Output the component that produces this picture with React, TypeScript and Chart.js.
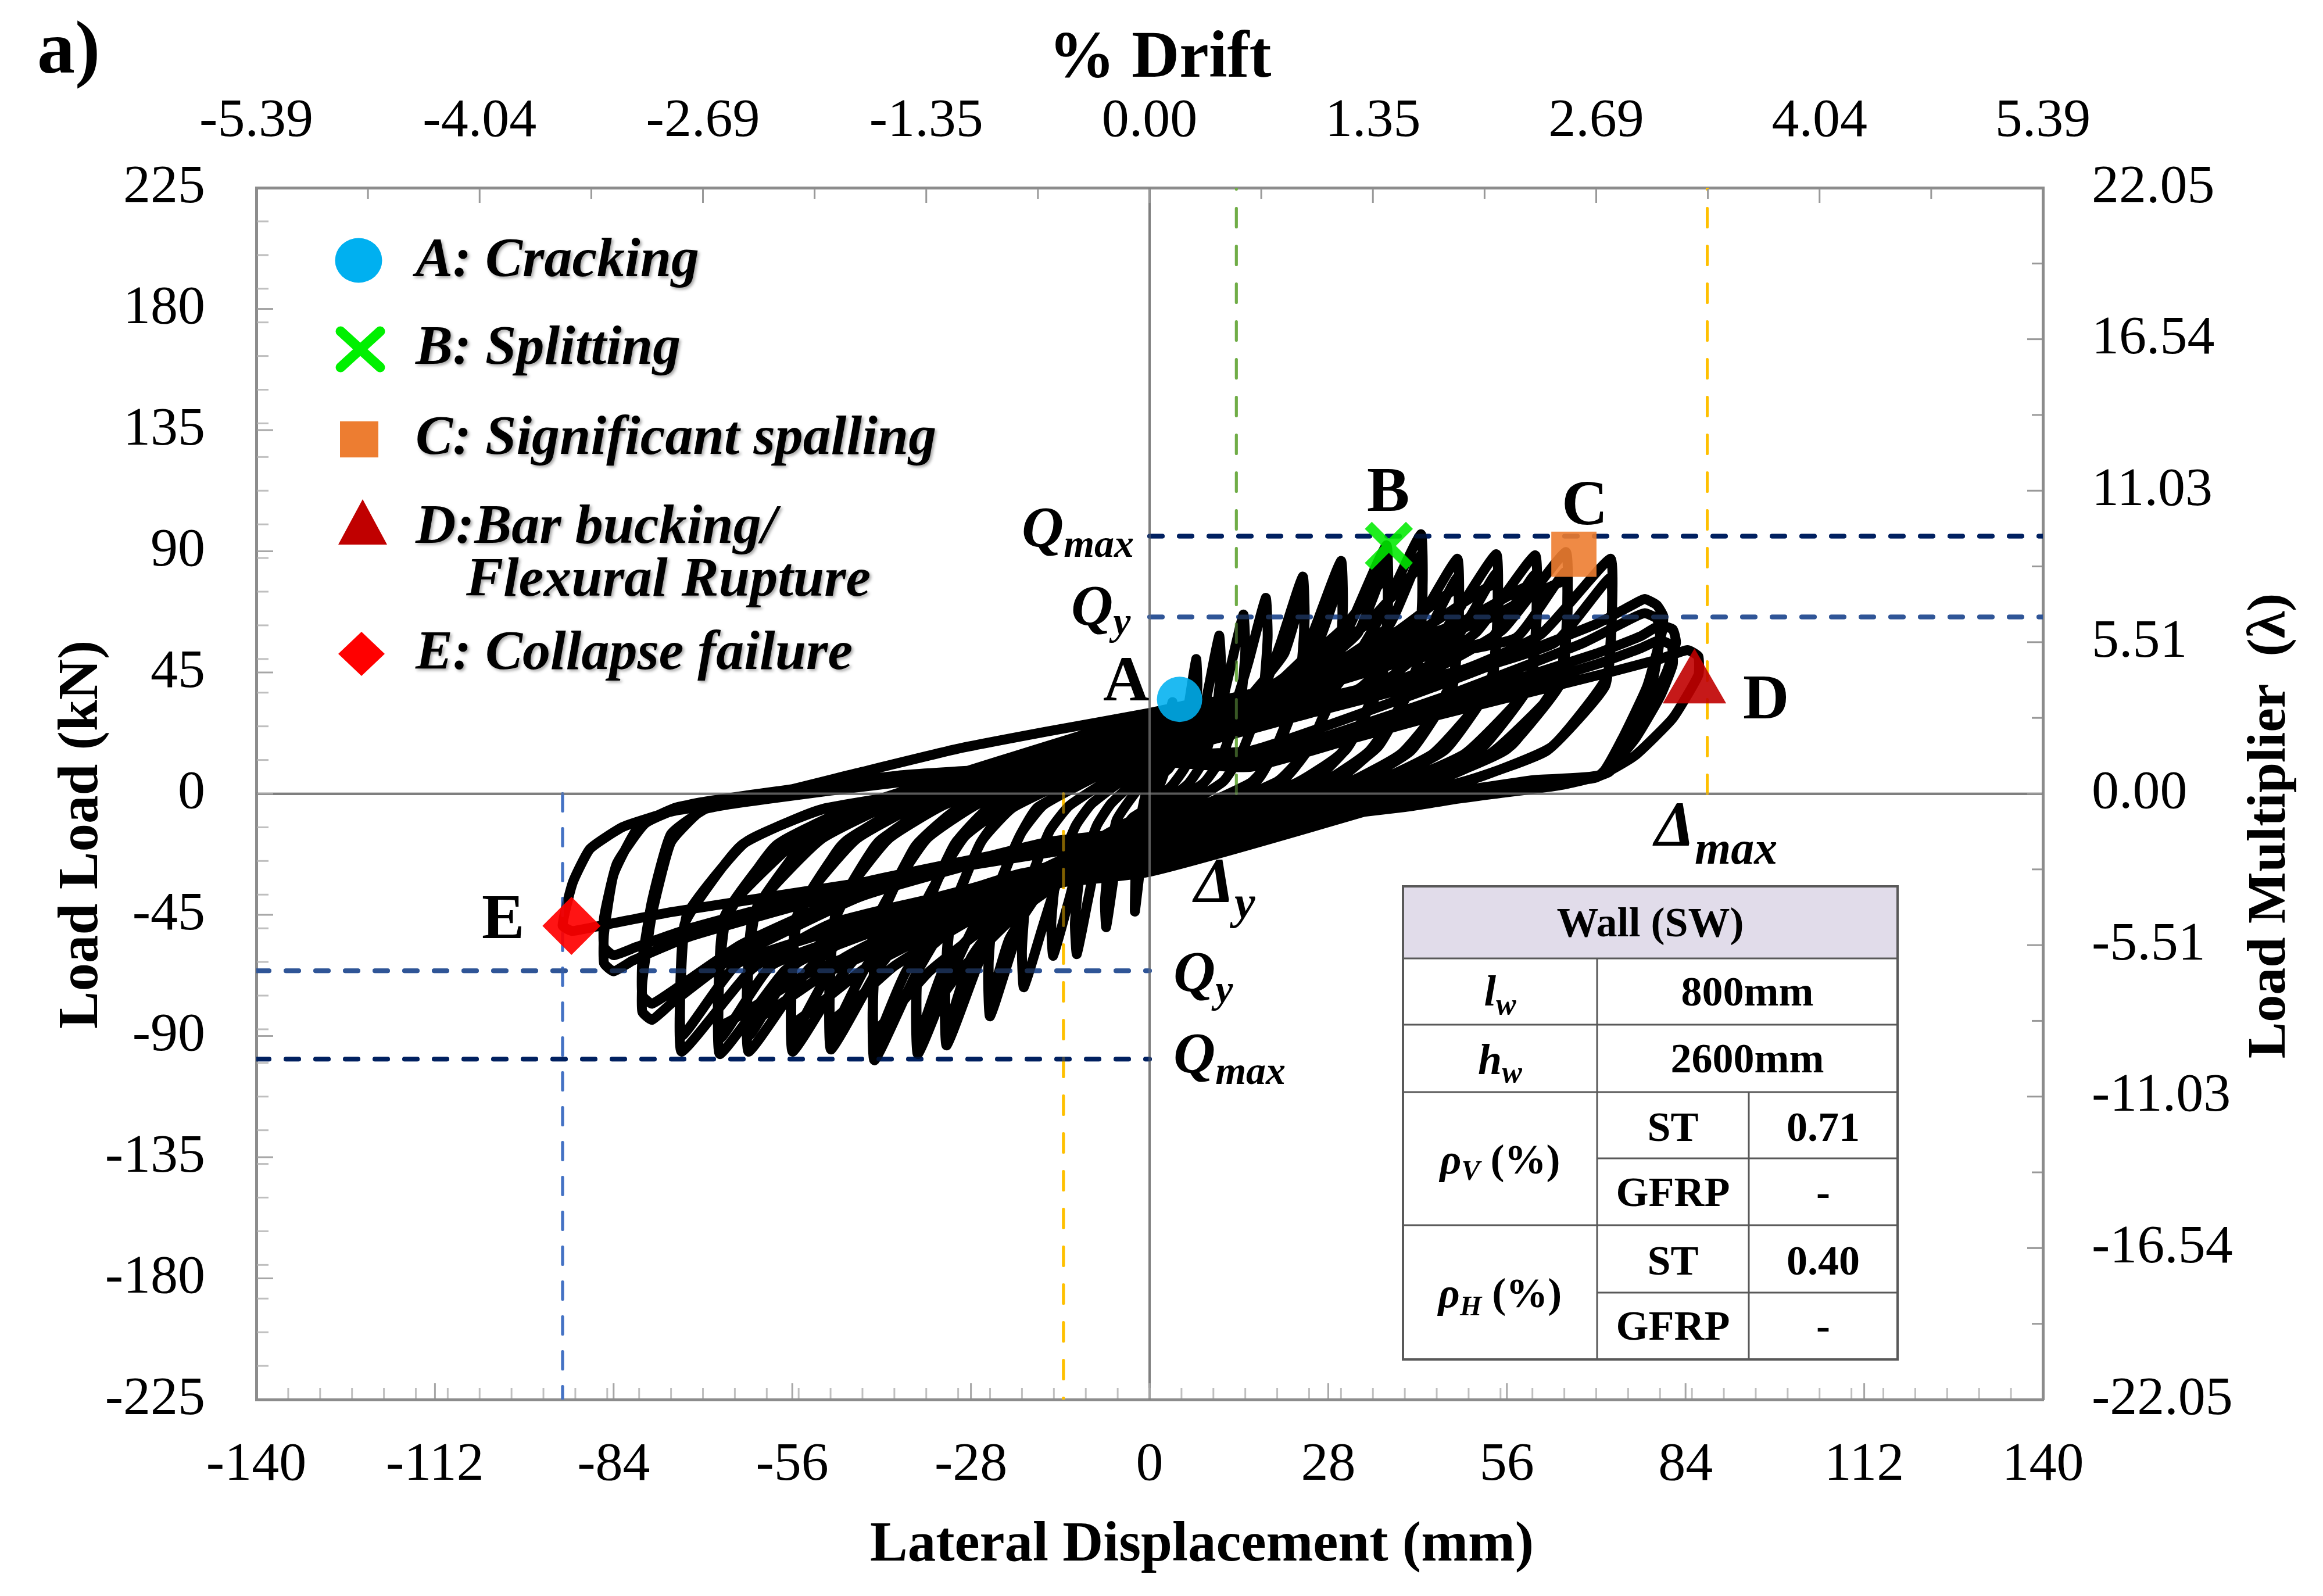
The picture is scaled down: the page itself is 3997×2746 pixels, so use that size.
import React, { useEffect, useRef } from 'react';
import { Chart, registerables } from 'chart.js';

Chart.register(...registerables);

const SERIF = '"Liberation Serif", "Times New Roman", serif';

// ---------- tick labels ----------
const driftTickLabels = ['-5.39', '-4.04', '-2.69', '-1.35', '0.00', '1.35', '2.69', '4.04', '5.39'];
const multiplierTickLabels = ['-22.05', '-16.54', '-11.03', '-5.51', '0.00', '5.51', '11.03', '16.54', '22.05'];

// ---------- hysteresis loops: [displacement mm, load kN] ----------
const cycle01 = [[0, 0], [1, 10], [2, 18], [1.6, 10], [0.8, 2], [0, -3], [-0.8, -14], [-1.5, -25], [-1.2, -14], [-0.6, -3], [0, 2]];
const cycle02 = [[1.5, 14], [2.8, 26], [3.6, 34], [3.4, 24], [2.6, 10], [1.4, 2], [0, -4], [-1.2, -22], [-2.3, -43.8], [-2.2, -30], [-1.6, -12], [-0.8, -2], [0, 4]];
const cycle03 = [[2.9, 9], [5, 17], [6.2, 34], [7.3, 50], [7.5, 40], [6.9, 25], [5.6, 10], [3.5, 3], [0, -5], [-2.7, -9], [-4.6, -16], [-5.8, -34], [-6.8, -49.6], [-7, -40], [-6.4, -25], [-5.2, -10], [-3.3, -3], [0, 7]];
const cycle04 = [[4.4, 12], [7.4, 19.4], [9.3, 40], [10.9, 58.7], [11.2, 47], [10.4, 29], [8.4, 12], [6, 3.5], [0, -7], [-4.6, -12], [-7.8, -19.7], [-9.7, -40], [-11.4, -59.6], [-11.7, -48], [-10.9, -30], [-8.3, -12], [-6, -3.6], [0, 9]];
const cycle05 = [[5.9, 14], [10, 22.3], [12.5, 45], [14.7, 66.5], [15, 53], [14.2, 33], [11.2, 13], [8.5, 4], [0, -9], [-6, -14], [-10.3, -21], [-12.8, -41], [-15.1, -60.2], [-15.4, -48], [-14.6, -30], [-11.6, -12], [-9, -3.6], [0, 12]];
const cycle06 = [[7.3, 18], [12.4, 26.5], [15.5, 49], [18.2, 72.7], [18.5, 58], [17.7, 36], [14.4, 15], [11.5, 4.4], [0, -12], [-7.9, -18], [-13.4, -26.4], [-16.7, -49], [-19.7, -71.9], [-20, -58], [-19.2, -36], [-15.7, -14], [-12.5, -4.3], [0, 14]];
const cycle07 = [[9.6, 20.5], [16.3, 30], [20.4, 55], [24, 80.6], [24.3, 64.5], [23.5, 40], [19.6, 16], [16.8, 4.8], [0, -14], [-10, -20.6], [-17, -30.5], [-21.3, -56], [-25, -82.7], [-25.3, -66], [-24.5, -41], [-20.5, -16.5], [-17.5, -5], [0, 16]];
const repeat07 = [[8.4, 23], [14.9, 34], [21.1, 52], [24, 74], [24.2, 60], [23.3, 37], [19.5, 14], [15.8, 4], [0, -13], [-8.8, -20], [-15.5, -31], [-22, -54], [-25, -77], [-25.2, -62], [-24.2, -38], [-20.2, -15], [-16.5, -4], [0, 16]];
const cycle08 = [[12, 23], [20.4, 33], [25.5, 59], [30, 86.4], [30.3, 69], [29.5, 43], [25, 17], [21, 5.2], [0, -16], [-12.7, -23.5], [-21.6, -34.7], [-27, -64], [-31.8, -93.5], [-32.1, -75], [-31.3, -47], [-26.6, -18.7], [-22.3, -5.6], [0, 18]];
const repeat08 = [[10.5, 26], [18.6, 38], [26.4, 56], [30, 79.5], [30.2, 64], [29.3, 40], [24.6, 16], [20, 4.5], [0, -15], [-11.1, -23.8], [-19.7, -36], [-28, -61], [-31.8, -88], [-32, -70], [-31, -44], [-26.3, -17.6], [-21.3, -5], [0, 18]];
const cycle09 = [[14.8, 25.4], [25.2, 36], [31.5, 63], [37.1, 92.2], [37.4, 74], [36.6, 46], [31.4, 18.4], [26, 5.5], [0, -18], [-14.5, -25.7], [-24.7, -37.3], [-30.9, -66], [-36.3, -96.7], [-36.6, -77], [-35.8, -48], [-30.7, -19.3], [-25.4, -5.8], [0, 20]];
const repeat09 = [[13, 28.5], [23, 41], [32.6, 59.5], [37.1, 85], [37.3, 68], [36.4, 42.5], [31, 17], [25, 5], [0, -17], [-12.7, -26], [-22.5, -39.7], [-32, -63.7], [-36.3, -91], [-36.5, -72.8], [-35.6, -45.5], [-30.4, -18.2], [-24.5, -5.5], [0, 20]];
const third09 = [[11, 30], [20.4, 42], [29.7, 60], [37.1, 80], [37.3, 64], [36.2, 40], [30, 15], [23, 4], [0, -16], [-10.9, -28], [-20, -43], [-29, -64], [-36.3, -86], [-36.5, -68], [-35.4, -42], [-29, -16], [-22, -4], [0, 20]];
const cycle10 = [[17, 27.7], [28.9, 39], [36.1, 65.5], [42.5, 96.3], [42.8, 77], [42, 48], [36.3, 19.3], [29.8, 5.8], [0, -20], [-17.2, -27.9], [-29.3, -39.8], [-36.6, -67], [-43.1, -99], [-43.4, -79], [-42.6, -49.5], [-36.8, -19.8], [-30.2, -5.9], [0, 22]];
const repeat10 = [[14.9, 30.9], [26.4, 44], [37.4, 62], [42.5, 88.6], [42.7, 71], [41.8, 44.3], [35.9, 17.7], [28.8, 5.3], [0, -19], [-15.1, -28.3], [-26.7, -42.3], [-37.9, -65], [-43.1, -93], [-43.3, -74.4], [-42.4, -46.5], [-36.4, -18.6], [-29.2, -5.6], [0, 22]];
const third10 = [[12.8, 32], [23.4, 45], [34, 63], [42.5, 84], [42.7, 67], [41.6, 42], [34.5, 16], [27, 4], [0, -18], [-12.9, -30], [-23.7, -46], [-34.5, -66], [-43.1, -88], [-43.3, -70], [-42.2, -44], [-35, -17], [-27, -4], [0, 22]];
const cycle11 = [[19.3, 29], [32.8, 39], [41, 59.3], [48.2, 87.2], [48.5, 70], [47.7, 43.6], [41.4, 17.4], [33.7, 5.2], [0, -22], [-20, -29.6], [-33.9, -41], [-42.4, -64.6], [-49.9, -95], [-50.2, -76], [-49.4, -47.5], [-42.9, -19], [-34.9, -5.7], [0, 24]];
const repeat11 = [[16.9, 32], [29.9, 44], [42.4, 56], [48.2, 80.2], [48.4, 64], [47.5, 40], [41, 16], [33, 4.8], [0, -21], [-17.5, -29.9], [-30.9, -43.3], [-43.9, -62.5], [-49.9, -89.3], [-50.1, -71.4], [-49.2, -44.6], [-42.5, -17.9], [-34, -5.4], [0, 24]];
const third11 = [[14.5, 34], [26.5, 46], [38.6, 60], [48.2, 76], [48.4, 61], [47.2, 38], [39.5, 15], [31, 4], [0, -20], [-15, -32], [-27.4, -46], [-40, -64], [-49.9, -84], [-50.1, -67], [-48.9, -42], [-41, -17], [-32, -4], [0, 24]];
const cycle12 = [[21.7, 31], [36.9, 42], [46.2, 60.5], [54.3, 88.9], [54.6, 71], [53.8, 44.5], [46.9, 17.8], [38, 5.3], [0, -24], [-22.4, -31.7], [-38, -43.2], [-47.5, -65], [-55.9, -95.8], [-56.2, -76.6], [-55.4, -47.9], [-48.3, -19.2], [-39.1, -5.7], [0, 26]];
const repeat12 = [[19, 34.2], [33.7, 46.5], [47.8, 57.3], [54.3, 81.8], [54.5, 65.4], [53.6, 41], [46.4, 16.4], [37, 4.9], [0, -23], [-19.6, -32], [-34.7, -45.5], [-49.2, -63], [-55.9, -90], [-56.1, -72], [-55.2, -45], [-47.8, -18], [-38.5, -5.4], [0, 26]];
const third12 = [[16.3, 36], [29.9, 49], [43.4, 62], [54.3, 78], [54.5, 62], [53.2, 39], [44.5, 15], [35, 4], [0, -22], [-16.8, -34], [-30.7, -48], [-44.7, -65], [-55.9, -85], [-56.1, -68], [-54.8, -42], [-46, -17], [-36, -4], [0, 26]];
const cycle13 = [[24.2, 33], [41.1, 44], [51.3, 60.2], [60.4, 88.5], [60.7, 70.8], [59.9, 44.3], [52.4, 17.7], [42.3, 5.3], [0, -26], [-25.1, -33.7], [-42.7, -45.2], [-53.4, -65.1], [-62.8, -95.8], [-63.1, -76.6], [-62.3, -47.9], [-54.5, -19.2], [-44, -5.7], [0, 28]];
const repeat13 = [[21.1, 36.1], [37.4, 48.4], [53.2, 57], [60.4, 81.4], [60.6, 65], [59.7, 40.7], [51.8, 16.3], [41.5, 4.9], [0, -25], [-22, -34], [-38.9, -47.5], [-55.3, -63], [-62.8, -90], [-63, -72], [-62.1, -45], [-53.9, -18], [-43.3, -5.4], [0, 28]];
const third13 = [[18, 38], [33.2, 51], [48.3, 63], [60.4, 78], [60.6, 62], [59.2, 39], [49.5, 15], [39, 4], [0, -24], [-18.8, -36], [-34.5, -50], [-50.2, -66], [-62.8, -85], [-63, -68], [-61.5, -42], [-51.5, -17], [-40.5, -4], [0, 28]];
const cycle14 = [[26.1, 35.2], [44.3, 46], [55.4, 61], [65.2, 89.7], [65.5, 71.8], [64.7, 44.9], [56.7, 17.9], [45.6, 5.4], [0, -28], [-26.9, -35.7], [-45.8, -47.3], [-57.2, -65.8], [-67.3, -96.7], [-67.6, -77.4], [-66.8, -48.4], [-58.6, -19.3], [-47.1, -5.8], [0, 29]];
const repeat14 = [[22.8, 37.3], [40.4, 49.6], [57.4, 57.8], [65.2, 82.5], [65.4, 66], [64.5, 41.3], [56, 16.5], [44.8, 5], [0, -26], [-23.6, -35.1], [-41.7, -48.7], [-59.2, -63.7], [-67.3, -91], [-67.5, -72.8], [-66.6, -45.5], [-57.9, -18.2], [-46.3, -5.5], [0, 29]];
const third14 = [[19.6, 39], [35.9, 52], [52.2, 64], [65.2, 79], [65.4, 63], [63.9, 39.5], [53.5, 15], [42, 4], [0, -25], [-20.2, -37], [-37, -51], [-53.8, -67], [-67.3, -86], [-67.5, -69], [-66, -43], [-55, -17], [-43.5, -4], [0, 29]];
const cycle15 = [[28.9, 36], [49.1, 46], [61.4, 59.3], [72.2, 87.2], [72.5, 69.8], [71.7, 43.6], [63, 17.4], [50.5, 5.2], [0, -29], [-29.3, -36.7], [-49.8, -48.2], [-62.3, -65.1], [-73.3, -95.8], [-73.6, -76.6], [-72.8, -47.9], [-64, -19.2], [-51.3, -5.7], [-20, 6], [0, 14]];
const repeat15 = [[25.3, 30], [44.8, 42], [63.5, 56], [72.2, 80.2], [72.4, 64], [71.4, 40], [62.3, 16], [49.7, 4.8], [0, -26], [-25.7, -35], [-45.4, -48], [-64.5, -63], [-73.3, -90], [-73.5, -72], [-72.5, -45], [-63.3, -18], [-50.5, -5.4], [-20, 5], [0, 14]];
const cycle16 = [[16, 16], [45, 40], [70, 63], [76, 70.5], [77.6, 72.3], [79.5, 70], [80.5, 66], [80.3, 60], [78, 40], [74, 20], [70.6, 7], [60, 5], [40, -2], [0, -14], [-16, -19], [-45, -38], [-66, -62], [-75, -78], [-78, -84], [-79.5, -81], [-79.5, -70], [-78, -45], [-75, -18], [-70, -6], [-60, -2], [-40, 4], [0, 13]];
const repeat16 = [[16, 13], [45, 35], [68, 56], [75.5, 65], [77.6, 67], [79.5, 65], [80, 58], [78.5, 38], [74.5, 18], [70, 6], [58, 3.5], [38, -3], [0, -14], [-16, -18], [-45, -36], [-64, -56], [-74, -72], [-78, -78], [-79.5, -75], [-79.5, -62], [-78, -40], [-75, -15], [-69, -5], [-58, -1], [-38, 5], [0, 12]];
const cycle17 = [[16, 12], [45, 33], [70, 52], [77, 58.5], [79.9, 62.4], [82, 61], [82.5, 56], [81, 45], [77, 25], [72, 8], [64, 3], [40, -4], [0, -15], [-16, -20], [-45, -35], [-72, -53], [-81, -62], [-84, -66], [-85.5, -63], [-85.5, -52], [-84, -30], [-80, -12], [-74, -5], [-60, 0], [-40, 6], [0, 12]];
const repeat17 = [[16, 10], [45, 30], [70, 48], [77, 54], [79.9, 57], [81.8, 55], [82, 48], [80, 36], [76, 20], [71, 7], [62, 2.5], [38, -5], [0, -15], [-16, -19], [-45, -33], [-72, -50], [-80.5, -57], [-84, -60], [-85.5, -57], [-85.5, -46], [-83.5, -26], [-79, -11], [-72, -4], [-58, 1], [-38, 7], [0, 12]];
const cycle18 = [[16, 11], [45, 29], [72, 45], [80, 50], [84.3, 53.3], [86, 51], [86, 44], [82, 28], [76, 14], [70, 6], [62, 3.5], [40, -5], [0, -16], [-16, -22], [-45, -33], [-75, -44], [-86, -49], [-90.5, -51], [-92, -49], [-90.4, -33], [-87.7, -20.5], [-82.5, -12.3], [-74.7, -6.5], [-61.6, -1.5], [-45.9, 7.6], [-30.2, 16.6], [-16.2, 23], [0, 30], [6, 33]];

// ---------- damage states ----------
const pointA = [{ x: 4.7, y: 35.0 }];
const pointB = [{ x: 37.5, y: 92.0 }];
const pointC = [{ x: 66.5, y: 88.9 }];
const pointD = [{ x: 85.4, y: 40.3 }];
const pointE = [{ x: -90.6, y: -49.1 }];

// ---------- reference levels ----------
const qmaxPositive = 95.6;
const qyPositive = 65.6;
const qyNegative = -65.8;
const qmaxNegative = -98.6;
const deltaYPositive = 13.6;
const deltaMaxPositive = 87.4;
const deltaYNegative = -13.5;
const deltaMaxNegative = -92.0;

const allCycles = [
  cycle01, cycle02, cycle03, cycle04, cycle05, cycle06,
  cycle07, repeat07, cycle08, repeat08, cycle09, repeat09, third09, cycle10, repeat10, third10,
  cycle11, repeat11, third11, cycle12, repeat12, third12, cycle13, repeat13, third13, cycle14, repeat14, third14,
  cycle15, repeat15, cycle16, repeat16, cycle17, repeat17, cycle18,
];

function drawRuns(ctx: CanvasRenderingContext2D, x: number, y: number, runs: { t: string; f: string; dy?: number }[], align: 'left' | 'center' = 'left') {
  ctx.textAlign = 'left';
  const ws = runs.map((r) => {
    ctx.font = r.f;
    return ctx.measureText(r.t).width;
  });
  const total = ws.reduce((a, b) => a + b, 0);
  let cx = align === 'center' ? x - total / 2 : x;
  runs.forEach((r, i) => {
    ctx.font = r.f;
    ctx.fillText(r.t, cx, y + (r.dy || 0));
    cx += ws[i];
  });
}

const decorPlugin = {
  id: 'decor',
  afterDraw(chart: any) {
    const ctx: CanvasRenderingContext2D = chart.ctx;
    const { left, right, top, bottom } = chart.chartArea;
    const sx = chart.scales.x;
    const sy = chart.scales.y;
    ctx.save();

    // inward tick marks
    ctx.lineWidth = 3;
    ctx.strokeStyle = '#BFBFBF';
    for (let v = -135; v < 140; v += 5) {
      const px = sx.getPixelForValue(v);
      ctx.beginPath(); ctx.moveTo(px, bottom - 2); ctx.lineTo(px, bottom - 20); ctx.stroke();
    }
    ctx.strokeStyle = '#A6A6A6';
    for (let v = -112; v < 140; v += 28) {
      const px = sx.getPixelForValue(v);
      ctx.beginPath(); ctx.moveTo(px, bottom - 2); ctx.lineTo(px, bottom - 28); ctx.stroke();
    }
    ctx.strokeStyle = '#999999';
    for (let i = 1; i < 16; i++) {
      const v = -140 + i * 17.5;
      const px = sx.getPixelForValue(v);
      const len = i % 2 === 0 ? 26 : 19;
      ctx.beginPath(); ctx.moveTo(px, top + 2); ctx.lineTo(px, top + len); ctx.stroke();
    }
    ctx.strokeStyle = '#BFBFBF';
    for (let v = 212.5; v > -225; v -= 12.5) {
      const py = sy.getPixelForValue(v);
      ctx.beginPath(); ctx.moveTo(left + 2, py); ctx.lineTo(left + 21, py); ctx.stroke();
    }
    ctx.strokeStyle = '#A6A6A6';
    for (let v = 180; v > -225; v -= 45) {
      const py = sy.getPixelForValue(v);
      ctx.beginPath(); ctx.moveTo(left + 2, py); ctx.lineTo(left + 29, py); ctx.stroke();
    }
    ctx.strokeStyle = '#999999';
    for (let i = 1; i < 16; i++) {
      const v = 225 - i * 28.125;
      const py = sy.getPixelForValue(v);
      const len = i % 2 === 0 ? 27 : 19;
      ctx.beginPath(); ctx.moveTo(right - 2, py); ctx.lineTo(right - len, py); ctx.stroke();
    }

    ctx.fillStyle = '#000';
    ctx.textBaseline = 'alphabetic';

    // panel label and axis titles
    drawRuns(ctx, 56, 117, [{ t: 'a)', f: `bold 130px ${SERIF}` }]);
    drawRuns(ctx, 1988, 124, [{ t: '% Drift', f: `bold 114px ${SERIF}` }], 'center');
    drawRuns(ctx, 2060, 2677, [{ t: 'Lateral Displacement (mm)', f: `bold 97px ${SERIF}` }], 'center');
    ctx.save();
    ctx.translate(159, 1428);
    ctx.rotate(-Math.PI / 2);
    drawRuns(ctx, 0, 0, [{ t: 'Load Load (kN)', f: `bold 97px ${SERIF}` }], 'center');
    ctx.restore();
    ctx.save();
    ctx.translate(3923, 1413);
    ctx.rotate(-Math.PI / 2);
    drawRuns(ctx, 0, 0, [{ t: 'Load Multiplier  (λ)', f: `bold 94px ${SERIF}` }], 'center');
    ctx.restore();

    // annotations
    const BI = (s: number) => `bold italic ${s}px ${SERIF}`;
    const B = (s: number) => `bold ${s}px ${SERIF}`;
    drawRuns(ctx, 1750, 932, [{ t: 'Q', f: BI(100) }, { t: 'max', f: BI(68), dy: 18 }]);
    drawRuns(ctx, 1835, 1067, [{ t: 'Q', f: BI(100) }, { t: 'y', f: BI(68), dy: 17 }]);
    drawRuns(ctx, 2011, 1697, [{ t: 'Q', f: BI(100) }, { t: 'y', f: BI(68), dy: 20 }]);
    drawRuns(ctx, 2011, 1837, [{ t: 'Q', f: BI(100) }, { t: 'max', f: BI(68), dy: 20 }]);
    drawRuns(ctx, 2839, 1447, [{ t: 'Δ', f: BI(110) }, { t: 'max', f: BI(80), dy: 31 }]);
    drawRuns(ctx, 2047, 1544, [{ t: 'Δ', f: BI(110) }, { t: 'y', f: BI(80), dy: 28 }]);
    drawRuns(ctx, 1890, 1197, [{ t: 'A', f: B(110) }]);
    drawRuns(ctx, 2344, 871, [{ t: 'B', f: B(110) }]);
    drawRuns(ctx, 2679, 894, [{ t: 'C', f: B(110) }]);
    drawRuns(ctx, 2991, 1228, [{ t: 'D', f: B(110) }]);
    drawRuns(ctx, 821, 1606, [{ t: 'E', f: B(110) }]);

    // legend markers
    ctx.fillStyle = '#00B0F0';
    ctx.beginPath(); ctx.ellipse(609, 440, 40.5, 38.5, 0, 0, Math.PI * 2); ctx.fill();
    ctx.strokeStyle = '#00F000';
    ctx.lineWidth = 17;
    ctx.lineCap = 'round';
    ctx.beginPath(); ctx.moveTo(578, 562); ctx.lineTo(646, 624); ctx.moveTo(646, 562); ctx.lineTo(578, 624); ctx.stroke();
    ctx.lineCap = 'butt';
    ctx.fillStyle = '#ED7D31';
    ctx.fillRect(577, 717, 66, 62);
    ctx.fillStyle = '#C00000';
    ctx.beginPath(); ctx.moveTo(616, 851); ctx.lineTo(574, 929); ctx.lineTo(658, 929); ctx.closePath(); ctx.fill();
    ctx.fillStyle = '#FF0000';
    ctx.beginPath(); ctx.moveTo(614, 1079); ctx.lineTo(654, 1117); ctx.lineTo(614, 1155); ctx.lineTo(574, 1117); ctx.closePath(); ctx.fill();

    // legend texts
    ctx.save();
    ctx.fillStyle = '#000';
    ctx.shadowColor = 'rgba(0,0,0,0.35)';
    ctx.shadowBlur = 5;
    ctx.shadowOffsetX = 3;
    ctx.shadowOffsetY = 3;
    drawRuns(ctx, 707, 467, [{ t: 'A: Cracking', f: BI(96) }]);
    drawRuns(ctx, 707, 618, [{ t: 'B: Splitting', f: BI(96) }]);
    drawRuns(ctx, 707, 773, [{ t: 'C: Significant spalling', f: BI(96) }]);
    drawRuns(ctx, 707, 926, [{ t: 'D:Bar bucking/', f: BI(96) }]);
    drawRuns(ctx, 794, 1017, [{ t: 'Flexural Rupture', f: BI(96) }]);
    drawRuns(ctx, 707, 1143, [{ t: 'E: Collapse failure', f: BI(96) }]);
    ctx.restore();

    // properties table
    const T = { l: 2406, r: 3257, t: 1517, h: 1641, r1: 1755, r2: 1871, r3: 1985, r4: 2100, r5: 2216, b: 2331, c1: 2740, c2: 3001 };
    ctx.fillStyle = '#FFFFFF';
    ctx.fillRect(T.l, T.t, T.r - T.l, T.b - T.t);
    ctx.fillStyle = '#E1DCEA';
    ctx.fillRect(T.l, T.t, T.r - T.l, T.h - T.t);
    ctx.strokeStyle = '#595959';
    ctx.lineWidth = 3;
    const hl = (y: number, x0: number) => { ctx.beginPath(); ctx.moveTo(x0, y); ctx.lineTo(T.r, y); ctx.stroke(); };
    const vl = (x: number, y0: number) => { ctx.beginPath(); ctx.moveTo(x, y0); ctx.lineTo(x, T.b); ctx.stroke(); };
    hl(T.h, T.l); hl(T.r1, T.l); hl(T.r2, T.l); hl(T.r3, T.c1); hl(T.r4, T.l); hl(T.r5, T.c1);
    vl(T.c1, T.h); vl(T.c2, T.r2);
    ctx.lineWidth = 4;
    ctx.strokeRect(T.l, T.t, T.r - T.l, T.b - T.t);

    ctx.fillStyle = '#000';
    const c0 = (T.l + T.c1) / 2;
    const cm = (T.c1 + T.r) / 2;
    const cA = (T.c1 + T.c2) / 2;
    const cB = (T.c2 + T.r) / 2;
    drawRuns(ctx, (T.l + T.r) / 2, 1603, [{ t: 'Wall (SW)', f: B(72) }], 'center');
    drawRuns(ctx, c0, 1722, [{ t: 'l', f: BI(74) }, { t: 'w', f: BI(52), dy: 15 }], 'center');
    drawRuns(ctx, cm, 1722, [{ t: '800mm', f: B(72) }], 'center');
    drawRuns(ctx, c0, 1840, [{ t: 'h', f: BI(74) }, { t: 'w', f: BI(52), dy: 14 }], 'center');
    drawRuns(ctx, cm, 1837, [{ t: '2600mm', f: B(72) }], 'center');
    drawRuns(ctx, c0, 2011, [{ t: 'ρ', f: BI(72) }, { t: 'V', f: BI(48), dy: 11 }, { t: ' (%)', f: B(72) }], 'center');
    drawRuns(ctx, cA, 1955, [{ t: 'ST', f: B(72) }], 'center');
    drawRuns(ctx, cB, 1955, [{ t: '0.71', f: B(72) }], 'center');
    drawRuns(ctx, cA, 2067, [{ t: 'GFRP', f: B(72) }], 'center');
    drawRuns(ctx, cB, 2067, [{ t: '-', f: B(72) }], 'center');
    drawRuns(ctx, c0, 2241, [{ t: 'ρ', f: BI(72) }, { t: 'H', f: BI(48), dy: 14 }, { t: ' (%)', f: B(72) }], 'center');
    drawRuns(ctx, cA, 2185, [{ t: 'ST', f: B(72) }], 'center');
    drawRuns(ctx, cB, 2185, [{ t: '0.40', f: B(72) }], 'center');
    drawRuns(ctx, cA, 2297, [{ t: 'GFRP', f: B(72) }], 'center');
    drawRuns(ctx, cB, 2297, [{ t: '-', f: B(72) }], 'center');

    ctx.restore();
  },
};

function refLine(points: { x: number; y: number }[], color: string, width: number, dash: number[], order: number, cap: CanvasLineCap) {
  return {
    data: points,
    showLine: true,
    pointRadius: 0,
    borderColor: color,
    borderWidth: width,
    borderDash: dash,
    borderCapStyle: cap,
    fill: false,
    order,
  };
}

export default function App() {
  const canvasRef = useRef<HTMLCanvasElement>(null);

  useEffect(() => {
    const canvas = canvasRef.current;
    if (!canvas) return;

    const hysteresis = allCycles.flat().map(([x, y]) => ({ x, y }));

    const refs = (alpha: number, order: number) => [
      refLine([{ x: 0, y: qmaxPositive }, { x: 140, y: qmaxPositive }], `rgba(0,32,96,${alpha})`, 8, [22, 29], order, 'round'),
      refLine([{ x: 0, y: qyPositive }, { x: 140, y: qyPositive }], `rgba(47,85,151,${alpha})`, 8, [22, 29], order, 'round'),
      refLine([{ x: -140, y: qyNegative }, { x: 0, y: qyNegative }], `rgba(47,85,151,${alpha})`, 8, [22, 29], order, 'round'),
      refLine([{ x: -140, y: qmaxNegative }, { x: 0, y: qmaxNegative }], `rgba(0,32,96,${alpha})`, 8, [22, 29], order, 'round'),
      refLine([{ x: deltaYPositive, y: 0 }, { x: deltaYPositive, y: 225 }], `rgba(112,173,71,${alpha})`, 5, [32, 33], order, 'round'),
      refLine([{ x: deltaMaxPositive, y: 0 }, { x: deltaMaxPositive, y: 225 }], `rgba(255,192,0,${alpha})`, 5, [32, 33], order, 'round'),
      refLine([{ x: deltaYNegative, y: 0 }, { x: deltaYNegative, y: -225 }], `rgba(255,192,0,${alpha})`, 5, [32, 33], order, 'round'),
      refLine([{ x: deltaMaxNegative, y: 0 }, { x: deltaMaxNegative, y: -225 }], `rgba(68,114,196,${alpha})`, 5, [30, 30], order, 'round'),
    ];

    const marker = (data: any[], style: string, radius: number, fillColor: string, border: number) => ({
      data,
      showLine: false,
      pointStyle: style,
      pointRadius: radius,
      pointBackgroundColor: fillColor,
      pointBorderColor: fillColor,
      pointBorderWidth: border,
      backgroundColor: fillColor,
      borderColor: fillColor,
      borderWidth: border,
      order: 0,
    });

    const chart = new Chart(canvas, {
      type: 'scatter',
      data: {
        datasets: [
          marker(pointA, 'circle', 39, 'rgba(0,176,240,0.88)', 0),
          marker(pointB, 'crossRot', 50, 'rgba(0,235,0,0.88)', 17),
          marker(pointC, 'rect', 55, 'rgba(237,125,49,0.9)', 0),
          marker(pointD, 'triangle', 63, 'rgba(192,0,0,0.9)', 0),
          marker(pointE, 'rectRot', 50, 'rgba(255,0,0,0.92)', 0),
          ...refs(0.5, 1),
          refLine([{ x: -140, y: 0 }, { x: 140, y: 0 }], 'rgba(127,127,127,0.7)', 4, [], 2, 'butt'),
          refLine([{ x: 0, y: -225 }, { x: 0, y: 225 }], 'rgba(127,127,127,0.7)', 4, [], 2, 'butt'),
          {
            data: hysteresis,
            showLine: true,
            pointRadius: 0,
            borderColor: '#000000',
            borderWidth: 17,
            tension: 0.15,
            borderJoinStyle: 'round',
            borderCapStyle: 'round',
            fill: false,
            order: 5,
          },
          ...refs(1, 8),
        ] as any,
      },
      options: {
        responsive: false,
        maintainAspectRatio: false,
        animation: false,
        devicePixelRatio: 1,
        layout: { padding: 0 },
        plugins: {
          legend: { display: false },
          tooltip: { enabled: false },
        },
        scales: {
          x: {
            type: 'linear',
            position: 'bottom',
            min: -140,
            max: 140,
            afterFit: (s: any) => { s.height = 330; },
            ticks: { stepSize: 28, autoSkip: false, maxRotation: 0, color: '#000', padding: 57, font: { family: SERIF, size: 94 } },
            grid: { drawTicks: false, lineWidth: 4, color: (c: any) => (c.tick && c.tick.value === 0 ? '#7F7F7F' : 'rgba(0,0,0,0)') },
            border: { display: true, color: '#8C8C8C', width: 5 },
          },
          x2: {
            type: 'linear',
            position: 'top',
            min: -140,
            max: 140,
            afterFit: (s: any) => { s.height = 315; },
            ticks: {
              stepSize: 35,
              autoSkip: false,
              maxRotation: 0,
              color: '#000',
              padding: 57,
              font: { family: SERIF, size: 94 },
              callback: (_v: any, i: number) => driftTickLabels[i],
            },
            grid: { display: false, drawTicks: false },
            border: { display: true, color: '#8C8C8C', width: 5 },
          },
          y: {
            type: 'linear',
            position: 'left',
            min: -225,
            max: 225,
            afterFit: (s: any) => { s.width = 433; },
            ticks: { stepSize: 45, autoSkip: false, color: '#000', padding: 88, font: { family: SERIF, size: 94 } },
            grid: { drawTicks: false, lineWidth: 4, color: (c: any) => (c.tick && c.tick.value === 0 ? '#7F7F7F' : 'rgba(0,0,0,0)') },
            border: { display: true, color: '#8C8C8C', width: 5 },
          },
          y2: {
            type: 'linear',
            position: 'right',
            min: -225,
            max: 225,
            afterFit: (s: any) => { s.width = 474; },
            ticks: {
              stepSize: 56.25,
              autoSkip: false,
              color: '#000',
              padding: 84,
              font: { family: SERIF, size: 94 },
              callback: (_v: any, i: number) => multiplierTickLabels[i],
            },
            grid: { display: false, drawTicks: false },
            border: { display: true, color: '#8C8C8C', width: 5 },
          },
        },
      } as any,
      plugins: [decorPlugin],
    });

    return () => chart.destroy();
  }, []);

  return (
    <div style={{ width: 3981, height: 2730 }}>
      <canvas ref={canvasRef} width={3981} height={2730} style={{ display: 'block' }} />
    </div>
  );
}
